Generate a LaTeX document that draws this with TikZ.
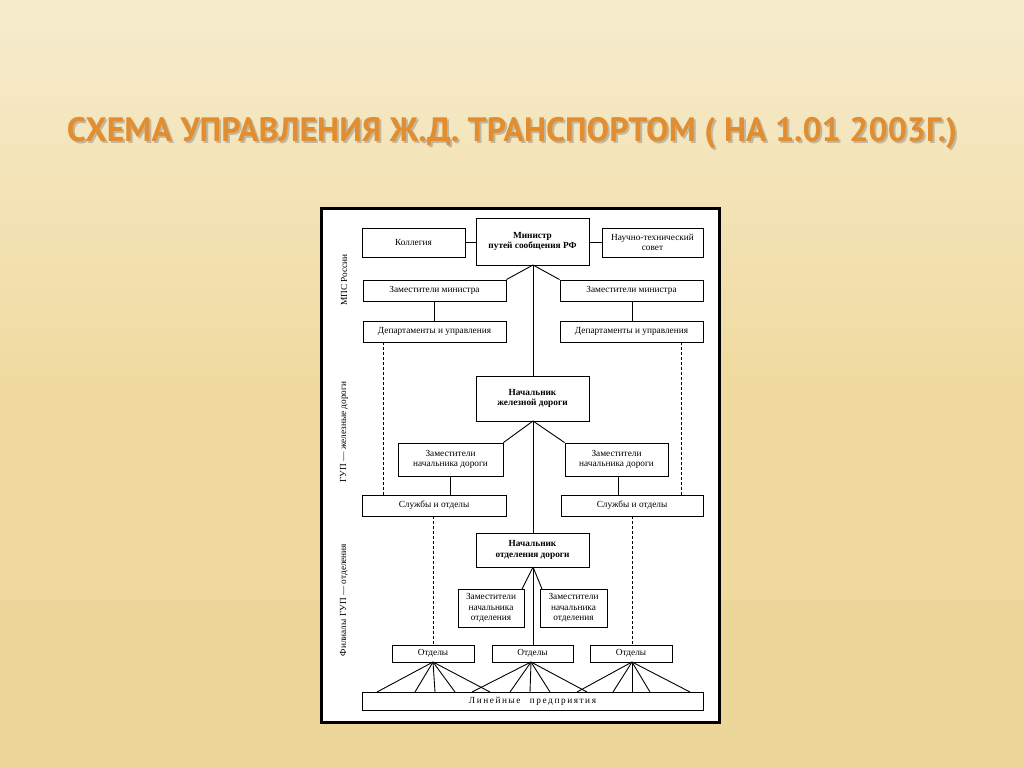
\documentclass[tikz,border=0pt]{standalone}
\usepackage{fontspec}
\setmainfont{Liberation Serif}
\newfontfamily\titlefont{PT Sans}
\definecolor{bgA}{RGB}{246,236,205}
\definecolor{bgB}{RGB}{240,218,160}
\definecolor{bgC}{RGB}{236,212,150}
\definecolor{ttl}{RGB}{226,141,47}
\begin{document}
\begin{tikzpicture}[x=1pt,y=-1pt,
  bx/.style={draw=black,line width=0.9pt,fill=white,inner sep=1pt,align=center,font=\fontsize{9.3}{10.5}\selectfont},
  ln/.style={line width=0.9pt},
  dl/.style={line width=0.8pt,dashed,dash pattern=on 3pt off 2pt}]
\newcommand\bx[6]{\node[bx,minimum width={#4pt-#2pt},minimum height={#5pt-#3pt}] (#1) at ({(#2+#4)/2},{(#3+#5)/2}) {#6};}
\shade[top color=bgA,bottom color=bgB,middle color=bgB] (0,0) rectangle (1024,767);
\fill[bgC,opacity=0.5] (0,767) rectangle (1024,600);
\useasboundingbox (0,0) rectangle (1024,767);
\node[text=black!50,opacity=0.45] at (514,135) {\resizebox{890pt}{!}{\titlefont\bfseries СХЕМА УПРАВЛЕНИЯ Ж.Д. ТРАНСПОРТОМ ( НА 1.01 2003Г.)}};
\node[text=ttl] (title) at (512,133) {\resizebox{890pt}{!}{\titlefont\bfseries СХЕМА УПРАВЛЕНИЯ Ж.Д. ТРАНСПОРТОМ ( НА 1.01 2003Г.)}};
\draw[line width=3pt,fill=white] (321,209) rectangle (719,722);
% side labels
\node[rotate=90,font=\fontsize{9.3}{10}\selectfont] (s1) at (344,280) {МПС России};
\node[rotate=90,font=\fontsize{9.3}{10}\selectfont] (s2) at (344,432) {ГУП — железные дороги};
\node[rotate=90,font=\fontsize{9.3}{10}\selectfont] (s3) at (344,600) {Филиалы ГУП — отделения};
% boxes
\bx{kol}{362}{228}{465}{257}{Коллегия}
\bx{min}{476}{218}{589}{265}{\bfseries Министр\\\bfseries путей сообщения РФ}
\bx{nts}{602}{228}{703}{257}{Научно-технический\\совет}
\bx{zl}{363}{280}{506}{301}{Заместители министра}
\bx{zr}{560}{280}{703}{301}{Заместители министра}
\bx{dl}{363}{321}{506}{342}{Департаменты и управления}
\bx{dr}{560}{321}{703}{342}{Департаменты и управления}
\bx{nzd}{476}{376}{589}{421}{\bfseries Начальник\\\bfseries железной дороги}
\bx{zdl}{398}{443}{503}{476}{Заместители\\начальника дороги}
\bx{zdr}{565}{443}{668}{476}{Заместители\\начальника дороги}
\bx{sl}{362}{495}{506}{516}{Службы и отделы}
\bx{sr}{561}{495}{703}{516}{Службы и отделы}
\bx{no}{476}{533}{589}{567}{\bfseries Начальник\\\bfseries отделения дороги}
\bx{zol}{458}{589}{524}{627}{Заместители\\начальника\\отделения}
\bx{zor}{540}{589}{607}{627}{Заместители\\начальника\\отделения}
\bx{o1}{392}{645}{474}{662}{Отделы}
\bx{o2}{492}{645}{573}{662}{Отделы}
\bx{o3}{590}{645}{672}{662}{Отделы}
\bx{lin}{362}{692}{703}{710}{Л\,и\,н\,е\,й\,н\,ы\,е\quad п\,р\,е\,д\,п\,р\,и\,я\,т\,и\,я}
% connectors
\draw[ln] (kol.east) -- (min.west|-kol.east);
\draw[ln] (nts.west) -- (min.east|-nts.west);
\coordinate (mb) at (533,265);
\draw[ln] (mb) -- (zl.north east);
\draw[ln] (mb) -- (zr.north west);
\draw[ln] (mb) -- (nzd.north-|mb);
\draw[ln] (434,301) -- (434,321);
\draw[ln] (632,301) -- (632,321);
\draw[dl] (383,342) -- (383,495);
\draw[dl] (681,342) -- (681,495);
\coordinate (nb) at (533,421);
\draw[ln] (nb) -- (zdl.north east);
\draw[ln] (nb) -- (zdr.north west);
\draw[ln] (nb) -- (no.north-|nb);
\draw[ln] (450,476) -- (450,495);
\draw[ln] (618,476) -- (618,495);
\draw[dl] (433,516) -- (433,645);
\draw[dl] (632,516) -- (632,645);
\coordinate (ob) at (533,567);
\draw[ln] (ob) -- (522,589);
\draw[ln] (ob) -- (542,589);
\draw[ln] (ob) -- (o2.north-|ob);
\foreach \c/\xs in {433/{377,415,435,455,490},531/{472,510,530,550,587},632/{577,613,632,650,690}}{
  \foreach \x in \xs {\draw[ln] (\c,662) -- (\x,692);}
}
\end{tikzpicture}
\end{document}
